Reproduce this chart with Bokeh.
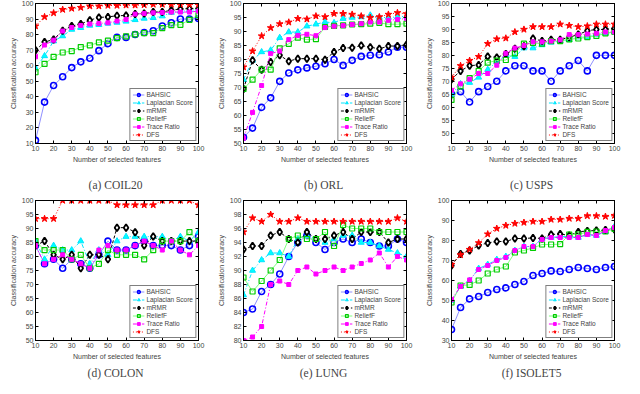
from bokeh.plotting import figure
from bokeh.layouts import gridplot
from bokeh.models import Range1d, FixedTicker, Legend, LegendItem, LinearAxis
from bokeh.embed import file_html
from bokeh.resources import INLINE

FEATURES = [10, 15, 20, 25, 30, 35, 40, 45, 50, 55, 60, 65, 70, 75, 80, 85, 90, 95, 100]
X_TICKS = [10, 20, 30, 40, 50, 60, 70, 80, 90, 100]
METHODS = ["BAHSIC", "Laplacian Score", "mRMR", "ReliefF", "Trace Ratio", "DFS"]

# (a) COIL20
COIL20_BAHSIC = [12, 36.6, 47.3, 52.9, 58.8, 62.5, 64.8, 69.7, 74.2, 78.2, 78.2, 80.1, 81.4, 82.5, 85.5, 87.6, 90.0, 90.0, 90.4]
COIL20_LAPLACIAN = [58.4, 66.3, 75.8, 79.1, 83.3, 84.4, 85.9, 86.3, 87.2, 87.8, 88.5, 89.5, 90.4, 90.8, 91.9, 94.2, 95.0, 95.7, 96.1]
COIL20_MRMR = [70.0, 75.2, 76.9, 82.5, 85.5, 86.8, 89.3, 91.0, 91.4, 92.1, 92.3, 93.2, 93.6, 94.5, 94.5, 95.7, 96.4, 96.8, 96.8]
COIL20_RELIEFF = [55.8, 61.2, 65.7, 68.5, 69.4, 72.0, 73.1, 75.0, 76.1, 77.8, 78.9, 80.1, 81.0, 81.0, 84.2, 86.1, 86.3, 89.5, 92.5]
COIL20_TRACE = [65.7, 73.3, 76.4, 82.3, 84.6, 85.9, 86.8, 87.2, 87.6, 88.7, 89.7, 93.2, 93.6, 94.0, 94.2, 94.5, 94.5, 94.5, 95.1]
COIL20_DFS = [85.5, 91.4, 93.9, 96.1, 96.8, 97.4, 98.3, 98.3, 98.7, 98.7, 98.9, 98.9, 99.1, 99.4, 99.4, 99.4, 99.4, 99.4, 99.4]
COIL20_YTICKS = [10, 20, 30, 40, 50, 60, 70, 80, 90, 100]

# (b) ORL
ORL_BAHSIC = [52.2, 55.5, 62.9, 66.3, 72.2, 75.2, 76.3, 77.0, 77.6, 78.5, 80.0, 77.9, 79.7, 81.1, 81.5, 81.7, 82.7, 84.4, 84.4]
ORL_LAPLACIAN = [72.8, 79.7, 82.7, 83.3, 87.8, 89.8, 89.8, 91.9, 92.6, 93.4, 93.1, 94.6, 95.0, 95.2, 95.8, 95.0, 95.0, 95.2, 95.5]
ORL_MRMR = [69.5, 79.7, 76.3, 79.1, 81.5, 79.4, 80.3, 80.3, 80.3, 79.9, 82.7, 84.1, 84.2, 85.0, 84.4, 83.8, 84.8, 84.8, 85.3]
ORL_RELIEFF = [69.5, 72.8, 76.4, 76.4, 84.0, 85.6, 87.8, 87.1, 87.3, 91.6, 92.0, 92.2, 92.5, 92.6, 92.8, 93.1, 92.6, 92.6, 92.8]
ORL_TRACE = [51.9, 61.1, 70.7, 82.1, 83.0, 87.1, 88.6, 89.0, 88.5, 91.4, 91.9, 92.1, 92.5, 92.8, 93.4, 93.4, 94.0, 94.3, 94.6]
ORL_DFS = [77.3, 83.0, 88.4, 91.3, 92.7, 93.3, 94.6, 94.4, 95.5, 95.2, 96.4, 96.4, 96.1, 95.5, 95.0, 95.2, 96.1, 96.7, 96.3]
ORL_YTICKS = [50, 55, 60, 65, 70, 75, 80, 85, 90, 95, 100]

# (c) USPS
USPS_BAHSIC = [65, 66, 62, 66, 68, 70, 74, 76, 76, 74, 74, 70, 74, 76, 78, 74, 80, 80, 80]
USPS_LAPLACIAN = [65, 69, 69.5, 71.5, 74.5, 77.5, 80, 79.5, 82.8, 82.8, 84, 85, 85.5, 86, 87, 87.2, 88, 88.5, 89]
USPS_MRMR = [70.8, 74, 76, 76.3, 79.6, 79.2, 80.5, 82.5, 83.5, 86.5, 85.5, 86, 86, 87, 88, 89.5, 90, 90, 90.5]
USPS_RELIEFF = [62.8, 68, 71.2, 74, 77.2, 78, 78.2, 80.8, 84.5, 84.8, 84.5, 85.5, 85.5, 86.2, 86.5, 87, 87.5, 88.5, 89]
USPS_TRACE = [66.5, 69, 70.8, 73, 73, 76.2, 80.8, 82.8, 83.8, 85.2, 85.2, 85.5, 86, 88, 88, 88.2, 88.5, 89, 89]
USPS_DFS = [71.5, 76, 78, 79.5, 84.5, 86.3, 86.6, 89, 90, 91, 91, 91, 92, 91.5, 91, 91.3, 92, 92, 92]
USPS_YTICKS = [50, 55, 60, 65, 70, 75, 80, 85, 90, 95, 100]

# (d) COLON
COLON_BAHSIC = [83.9, 77.4, 79.0, 75.8, 79.0, 77.4, 75.8, 80.6, 85.5, 82.3, 82.3, 83.9, 85.5, 83.9, 83.9, 83.9, 82.3, 83.9, 87.1]
COLON_LAPLACIAN = [85.5, 79.0, 83.9, 82.3, 82.3, 85.5, 77.4, 82.3, 80.6, 85.5, 87.1, 87.1, 87.1, 87.1, 87.1, 85.5, 87.1, 85.5, 88.7]
COLON_MRMR = [83.9, 85.5, 80.6, 79.0, 80.6, 75.8, 80.6, 80.6, 79.0, 90.3, 90.3, 88.7, 83.9, 87.1, 85.5, 85.5, 85.5, 85.5, 85.5]
COLON_RELIEFF = [85.5, 82.3, 82.3, 82.3, 79.0, 80.6, 75.8, 77.4, 82.3, 80.6, 80.6, 80.6, 79.0, 82.3, 85.5, 85.5, 85.5, 88.7, 85.5]
COLON_TRACE = [83.9, 77.4, 79.0, 80.6, 79.0, 77.4, 75.8, 82.3, 83.9, 82.3, 82.3, 83.9, 85.5, 83.9, 82.3, 85.5, 82.3, 80.6, 83.9]
COLON_DFS = [93.5, 93.5, 93.5, 100, 100, 100, 100, 100, 100, 98.4, 98.4, 98.4, 98.4, 98.4, 100, 100, 100, 100, 98.4]
COLON_YTICKS = [50, 55, 60, 65, 70, 75, 80, 85, 90, 95, 100]

# (e) LUNG
LUNG_BAHSIC = [84, 84.5, 87, 88, 89.5, 92, 94, 95, 94, 93, 94, 94.5, 94, 94.5, 94, 93.5, 93.5, 94.5, 94]
LUNG_LAPLACIAN = [86.5, 90, 91.5, 92.5, 92.5, 92, 94.5, 95, 94.5, 94, 94.5, 95, 95, 94, 94, 93.5, 93, 92.5, 92]
LUNG_MRMR = [93, 93.5, 93.5, 95, 95.5, 94.5, 94, 95.5, 94.5, 94.5, 95, 95.5, 94.5, 95.5, 95.5, 95.5, 94, 94.5, 94.5]
LUNG_RELIEFF = [89, 87, 88.5, 90, 91.5, 94.5, 95, 94.5, 94.5, 95.5, 93.5, 96.5, 96, 96, 96, 95.5, 95.5, 95.5, 95.5]
LUNG_TRACE = [80, 80.5, 82, 88, 88.5, 88, 90, 90.5, 89.5, 90, 90.5, 90, 90.5, 91, 91.5, 92.5, 90.5, 92, 91.5]
LUNG_DFS = [95.5, 97.5, 97, 98, 97, 97, 97.5, 97, 97, 97, 97, 97, 97, 97, 97, 97, 97, 97.5, 97]
LUNG_YTICKS = [80, 82, 84, 86, 88, 90, 92, 94, 96, 98, 100]

# (f) ISOLET5
ISOLET5_BAHSIC = [35.5, 46.5, 50.8, 52, 54, 55.5, 56.3, 58, 59.5, 62.5, 63.5, 64.8, 64.5, 65.5, 66.5, 66, 65.5, 66.5, 67]
ISOLET5_LAPLACIAN = [50, 57, 60, 66, 68, 70.5, 72, 75, 77, 77, 81, 81.5, 82, 82, 81.5, 83, 82.5, 84.5, 87]
ISOLET5_MRMR = [67.5, 73.3, 75, 77.5, 78.8, 79.5, 79.5, 81, 81, 81.3, 81, 83, 83.3, 82.5, 84.3, 84.8, 85, 85.2, 85.5]
ISOLET5_RELIEFF = [49, 57.5, 57.8, 60, 63.5, 65.5, 67, 74, 75, 76.3, 78, 78, 78.2, 83, 83, 84.3, 84.5, 84.5, 85.8]
ISOLET5_TRACE = [50.5, 57, 60.3, 65.5, 67.5, 70, 71.5, 75, 77, 77, 80.5, 81.5, 81.5, 81.5, 81.5, 83, 82.5, 85, 86.5]
ISOLET5_DFS = [68, 72.8, 75.5, 78.8, 83.2, 86, 87.5, 88.5, 89, 89.5, 89.5, 90.5, 90.5, 91, 91, 92.3, 92.3, 92, 92.5]
ISOLET5_YTICKS = [30, 40, 50, 60, 70, 80, 90, 100]

PANELS = [
    ("(a)  COIL20", [COIL20_BAHSIC, COIL20_LAPLACIAN, COIL20_MRMR, COIL20_RELIEFF, COIL20_TRACE, COIL20_DFS], 10, COIL20_YTICKS),
    ("(b)  ORL", [ORL_BAHSIC, ORL_LAPLACIAN, ORL_MRMR, ORL_RELIEFF, ORL_TRACE, ORL_DFS], 50, ORL_YTICKS),
    ("(c)  USPS", [USPS_BAHSIC, USPS_LAPLACIAN, USPS_MRMR, USPS_RELIEFF, USPS_TRACE, USPS_DFS], 46, USPS_YTICKS),
    ("(d)  COLON", [COLON_BAHSIC, COLON_LAPLACIAN, COLON_MRMR, COLON_RELIEFF, COLON_TRACE, COLON_DFS], 50, COLON_YTICKS),
    ("(e)  LUNG", [LUNG_BAHSIC, LUNG_LAPLACIAN, LUNG_MRMR, LUNG_RELIEFF, LUNG_TRACE, LUNG_DFS], 80, LUNG_YTICKS),
    ("(f)  ISOLET5", [ISOLET5_BAHSIC, ISOLET5_LAPLACIAN, ISOLET5_MRMR, ISOLET5_RELIEFF, ISOLET5_TRACE, ISOLET5_DFS], 30, ISOLET5_YTICKS),
]

STYLES = [
    dict(line_color="#8f8fff", dash="solid", marker="circle", size=6, mline="#0000ff", mfill=None, mwidth=1.6),
    dict(line_color="#00e5ff", dash="4 2 1 2", marker="triangle", size=6, mline="#00e5ff", mfill="#00ffff", mwidth=1),
    dict(line_color="#000000", dash="3 2", marker="diamond", size=7, mline="#000000", mfill="white", mwidth=1.8),
    dict(line_color="#80ff80", dash="solid", marker="square", size=5, mline="#00cc00", mfill=None, mwidth=1.2),
    dict(line_color="#ff00ff", dash="4 2 1 2", marker="square", size=4, mline="#ff00ff", mfill="#ff00ff", mwidth=1),
    dict(line_color="#ff0000", dash="1 2", marker="star", size=7, mline="#ff0000", mfill="#ff0000", mwidth=1),
]

SANS = "Liberation Sans"
SERIF = "Liberation Serif"


def make_panel(title, series, ymin, yticks, top_row):
    if top_row:
        h, tb, bb, cap_gap = 197, 3, 54, 13
    else:
        h, tb, bb, cap_gap = 187, 3, 44, 4
    p = figure(width=208, height=h, output_backend="svg", toolbar_location=None,
               x_range=Range1d(10, 100), y_range=Range1d(ymin, 100),
               min_border_left=35, min_border_right=10, min_border_top=tb, min_border_bottom=bb)
    p.grid.visible = False
    p.outline_line_color = "black"
    p.outline_line_alpha = 1
    p.background_fill_color = "white"
    p.border_fill_color = "white"

    for ax in (p.xaxis[0], p.yaxis[0]):
        ax.major_label_text_font = SANS
        ax.major_label_text_font_size = "7px"
        ax.axis_label_text_font = SANS
        ax.axis_label_text_font_size = "7px"
        ax.axis_label_text_font_style = "normal"
        ax.major_tick_in = 3
        ax.major_tick_out = 0
        ax.minor_tick_line_color = None
        ax.axis_line_color = "black"
        ax.major_label_standoff = 2
        ax.axis_label_standoff = 2
    p.xaxis[0].ticker = FixedTicker(ticks=X_TICKS)
    p.yaxis[0].ticker = FixedTicker(ticks=yticks)
    p.xaxis[0].axis_label = "Number of selected features"
    p.yaxis[0].axis_label = "Classification accuracy"

    for side, ticks in (("right", yticks), ("above", X_TICKS)):
        ax = LinearAxis(ticker=FixedTicker(ticks=ticks),
                        major_label_overrides={t: "" for t in ticks},
                        major_label_text_font_size="1px",
                        major_label_standoff=0, major_tick_in=3, major_tick_out=0,
                        minor_tick_line_color=None, axis_line_color="black")
        p.add_layout(ax, side)

    # sub-figure caption, drawn as the label of a bare axis below the x axis
    cap = LinearAxis(ticker=FixedTicker(ticks=[]), axis_label=title,
                     axis_label_text_font=SERIF, axis_label_text_font_size="11.5px",
                     axis_label_text_font_style="normal", axis_label_standoff=cap_gap,
                     major_label_standoff=0, major_tick_in=0, major_tick_out=0,
                     minor_tick_line_color=None, axis_line_color=None)
    p.add_layout(cap, "below")

    items = []
    for name, vals, st in zip(METHODS, series, STYLES):
        lr = p.line(FEATURES, vals, line_color=st["line_color"], line_dash=st["dash"], line_width=1)
        sr = p.scatter(FEATURES, vals, marker=st["marker"], size=st["size"], line_color=st["mline"],
                       fill_color=st["mfill"], line_width=st["mwidth"])
        items.append(LegendItem(label=name, renderers=[lr, sr]))
    legend = Legend(items=items, location="bottom_right", label_text_font=SANS, label_text_font_size="6.5px",
                    label_height=7, glyph_height=7, glyph_width=12, spacing=1, padding=2, margin=2,
                    label_standoff=2, border_line_color="black", border_line_width=1,
                    background_fill_color="white", background_fill_alpha=1)
    p.add_layout(legend)
    return p


figs = []
for i, (title, series, ymin, yticks) in enumerate(PANELS):
    figs.append(make_panel(title, series, ymin, yticks, i < 3))

grid = gridplot([figs[:3], figs[3:]], toolbar_location=None)
open("out.html", "w").write(file_html(grid, INLINE))
